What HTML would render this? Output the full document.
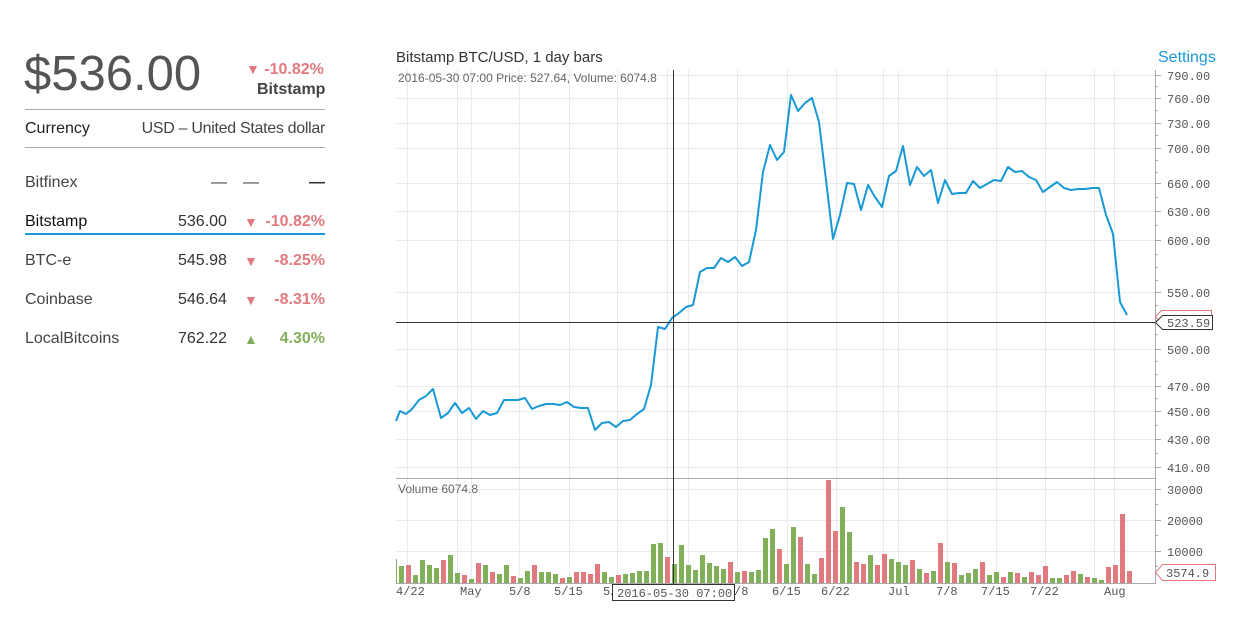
<!DOCTYPE html>
<html><head><meta charset="utf-8"><style>
body{margin:0;width:1244px;height:620px;background:#fff;font-family:"Liberation Sans",sans-serif;position:relative;overflow:hidden}
.a{position:absolute;white-space:nowrap}
.red{color:#e07a7f}.grn{color:#82b05a}
.row{position:absolute;left:25px;width:300px;height:20px;font-size:16px;color:#333}
.row span{position:absolute;top:0}
</style></head><body>
<div class="a" style="left:24px;top:46px;font-size:49px;color:#555;font-weight:300">$536.00</div>
<div class="a red" style="left:246px;top:61px;font-size:16px;font-weight:bold"><span style="font-size:14px">▼</span> -10.82%</div>
<div class="a" style="left:257px;top:81px;font-size:16px;font-weight:bold;color:#444">Bitstamp</div>
<div class="a" style="left:25px;top:109px;width:300px;border-top:1px solid #aaa"></div>
<div class="a" style="left:25px;top:120px;font-size:16px;color:#222">Currency</div>
<div class="a" style="left:140px;top:120px;width:185px;text-align:right;font-size:16px;color:#444;letter-spacing:-0.3px">USD – United States dollar</div>
<div class="a" style="left:25px;top:147px;width:300px;border-top:1px solid #aaa"></div>
<div class="row" style="top:174px"><span style="left:0;color:#444">Bitfinex</span><span style="left:186px;color:#444">—</span><span style="left:218px;color:#444">—</span><span style="left:284px;font-weight:bold;color:#333">—</span></div>
<div class="row" style="top:213px"><span style="left:0;color:#111">Bitstamp</span><span style="left:153px">536.00</span><span class="red" style="left:219px;font-size:14px;top:1px">▼</span><span class="red" style="right:0;font-weight:bold">-10.82%</span></div>
<div class="a" style="left:25px;top:233px;width:300px;height:2px;background:#1899d6"></div>
<div class="row" style="top:252px"><span style="left:0;color:#444">BTC-e</span><span style="left:153px">545.98</span><span class="red" style="left:219px;font-size:14px;top:1px">▼</span><span class="red" style="right:0;font-weight:bold">-8.25%</span></div>
<div class="row" style="top:291px"><span style="left:0;color:#444">Coinbase</span><span style="left:153px">546.64</span><span class="red" style="left:219px;font-size:14px;top:1px">▼</span><span class="red" style="right:0;font-weight:bold">-8.31%</span></div>
<div class="row" style="top:330px"><span style="left:0;color:#444">LocalBitcoins</span><span style="left:153px">762.22</span><span class="grn" style="left:219px;font-size:14px;top:1px">▲</span><span class="grn" style="right:0;font-weight:bold">4.30%</span></div>

<div class="a" style="left:396px;top:49px;font-size:15px;color:#333">Bitstamp BTC/USD, 1 day bars</div>
<div class="a" style="left:1158px;top:49px;font-size:16px;color:#1899d6">Settings</div>

<svg class="a" style="left:0;top:0" width="1244" height="620">
<g stroke="#e6ebf0" stroke-width="1">
<line x1="396" x2="1155" y1="75.5" y2="75.5"/><line x1="396" x2="1155" y1="98.5" y2="98.5"/><line x1="396" x2="1155" y1="123.5" y2="123.5"/><line x1="396" x2="1155" y1="148.5" y2="148.5"/><line x1="396" x2="1155" y1="183.5" y2="183.5"/><line x1="396" x2="1155" y1="211.5" y2="211.5"/><line x1="396" x2="1155" y1="240.5" y2="240.5"/><line x1="396" x2="1155" y1="292.5" y2="292.5"/><line x1="396" x2="1155" y1="349.5" y2="349.5"/><line x1="396" x2="1155" y1="386.5" y2="386.5"/><line x1="396" x2="1155" y1="411.5" y2="411.5"/><line x1="396" x2="1155" y1="439.5" y2="439.5"/><line x1="396" x2="1155" y1="467.5" y2="467.5"/>
<line x1="396" x2="1155" y1="489.5" y2="489.5"/><line x1="396" x2="1155" y1="520.5" y2="520.5"/><line x1="396" x2="1155" y1="551.5" y2="551.5"/>
<path d="M407.5 70V583M457.5 70V583M471.5 70V583M519.5 70V583M569.5 70V583M617.5 70V583M667.5 70V583M688.5 70V583M737.5 70V583M787.5 70V583M836.5 70V583M883.5 70V583M898.5 70V583M947.5 70V583M996.5 70V583M1045.5 70V583M1094.5 70V583M1114.5 70V583"/>
</g>
<line x1="396" x2="1155" y1="478.5" y2="478.5" stroke="#aaa"/>
<line x1="396" x2="1155" y1="583.5" y2="583.5" stroke="#aaa"/>
<line x1="1155.5" x2="1155.5" y1="70" y2="584" stroke="#aaa"/>
<g stroke="#aaa">
<path d="M1155 75.5h6M1155 98.5h6M1155 123.5h6M1155 148.5h6M1155 183.5h6M1155 211.5h6M1155 240.5h6M1155 292.5h6M1155 349.5h6M1155 386.5h6M1155 411.5h6M1155 439.5h6M1155 467.5h6M1155 489.5h6M1155 520.5h6M1155 551.5h6"/>
<path d="M1155 86.5h3M1155 110.5h3M1155 135.5h3M1155 160.5h3M1155 172.5h3M1155 197.5h3M1155 225.5h3M1155 254.5h3M1155 267.5h3M1155 280.5h3M1155 305.5h3M1155 320.5h3M1155 334.5h3M1155 361.5h3M1155 374.5h3M1155 398.5h3M1155 425.5h3M1155 453.5h3M1155 504.5h3M1155 535.5h3M1155 566.5h3"/>
</g>
<g style="font-family:'Liberation Mono',monospace" font-size="12" fill="#555">
<text x="1167" y="80">790.00</text><text x="1167" y="103">760.00</text><text x="1167" y="128">730.00</text><text x="1167" y="153">700.00</text><text x="1167" y="188">660.00</text><text x="1167" y="216">630.00</text><text x="1167" y="245">600.00</text><text x="1167" y="297">550.00</text><text x="1167" y="354">500.00</text><text x="1167" y="391">470.00</text><text x="1167" y="416">450.00</text><text x="1167" y="444">430.00</text><text x="1167" y="472">410.00</text>
<text x="1167" y="494">30000</text><text x="1167" y="525">20000</text><text x="1167" y="556">10000</text>
<text x="396" y="595">4/22</text><text x="460" y="595">May</text><text x="509" y="595">5/8</text><text x="554" y="595">5/15</text><text x="603" y="595">5/</text><text x="734" y="595">/8</text><text x="772" y="595">6/15</text><text x="821" y="595">6/22</text><text x="888" y="595">Jul</text><text x="936" y="595">7/8</text><text x="981" y="595">7/15</text><text x="1030" y="595">7/22</text><text x="1104" y="595">Aug</text>
</g>
<g font-family="Liberation Sans,sans-serif" font-size="12" fill="#666">
<text x="398" y="82">2016-05-30 07:00   Price: 527.64, Volume: 6074.8</text>
<text x="398" y="493">Volume 6074.8</text>
</g>
<g id="bars"></g>
<polyline fill="none" stroke="#1899d6" stroke-width="2" stroke-linejoin="round" points="396,421 400,411 406,414 412,409 419,400 426,396 433,389 441,418 448,413 455,403 462,413 469,408 476,419 483,411 490,415 497,413 504,400 511,400 518,400 525,398 532,409 539,406 546,404 553,404 560,405 567,402 574,407 581,408 588,408 595,430 602,423 609,422 616,427 623,421 630,420 637,414 644,409 651,385 658,327 665,329 672,318 679,313 686,307 693,305 700,272 707,268 714,268 721,258 728,262 735,257 742,266 749,262 756,230 763,172 770,145 777,160 784,152 791,95 798,111 805,103 812,98 819,122 826,180 833,239 840,215 847,183 854,184 861,210 868,185 875,197 882,207 889,176 896,171 903,146 910,185 917,167 924,176 931,170 938,203 945,180 952,194 959,193 966,193 973,181 980,188 987,184 994,180 1001,181 1008,167 1015,172 1022,171 1029,177 1036,180 1043,192 1050,187 1057,182 1064,188 1071,190 1078,189 1085,189 1092,188 1099,188 1106,215 1113,234 1120,302 1127,315"/>
<line x1="673.5" x2="673.5" y1="70" y2="585" stroke="#333"/>
<line x1="396" x2="1155" y1="322.5" y2="322.5" stroke="#333"/>
<path d="M1155.5 316.5l6-6h50v12h-50z" fill="#fff" stroke="#e07a7f"/>
<path d="M1155.5 322.5l7-7h50v14h-50z" fill="#fff" stroke="#333"/>
<path d="M1155.5 572.5l7-8h53v16h-53z" fill="#fff" stroke="#e07a7f"/>
<rect x="612.5" y="584.5" width="122" height="16" fill="#fff" stroke="#333"/>
<g style="font-family:'Liberation Mono',monospace" font-size="12" fill="#555">
<text x="1167" y="327">523.59</text><text x="1166" y="577">3574.9</text><text x="617" y="597">2016-05-30 07:00</text>
</g>
</svg>
<script>
var d="g559 g566 r565 g575 g560 g565 g568 r560 g555 g573 r575 g579 r563 g565 r572 g574 g565 r576 g578 g571 r565 g572 g572 g574 r578 g577 r572 r572 r574 r564 g572 g577 r575 g574 g573 g571 g571 g544 g543 r557 g564 g545 g565 g570 g555 g563 g566 g569 r562 g572 r571 g572 g570 g538 g529 r549 g564 g527 r537 g564 g574 r558 r480 r531 g507 g532 r562 r564 g555 r565 r554 g559 g562 g565 r560 g569 r573 g571 r543 g562 r563 g575 g573 g569 r562 g575 g572 r577 g572 r573 g577 r572 r575 r566 g578 g578 r575 r571 g574 r577 g578 g580 r567 r565 r514 r571".split(" ");
var s="";d.forEach(function(v,i){var t=+v.slice(1),x=392+7*i,w=5;if(x<396){w-=396-x;x=396;}s+='<rect x="'+x+'" y="'+t+'" width="'+w+'" height="'+(583-t)+'" fill="'+(v[0]=="g"?"#82b05a":"#e07a7f")+'"/>';});
document.getElementById("bars").innerHTML=s;
</script>
</body></html>
